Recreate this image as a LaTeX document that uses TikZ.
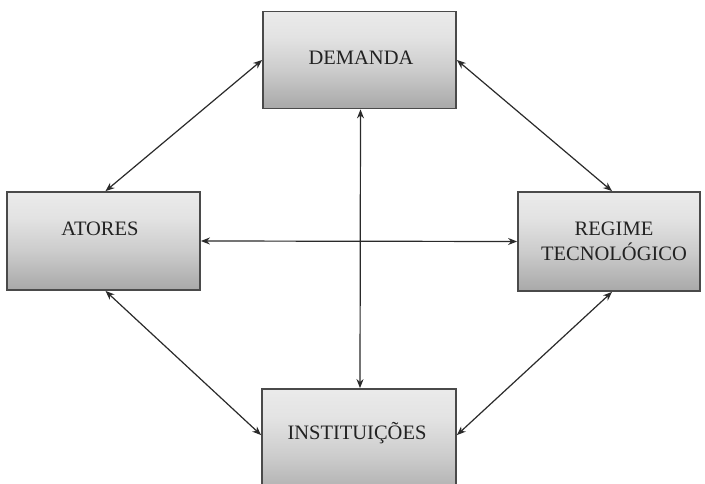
\documentclass[tikz,border=0pt]{standalone}
\usepackage{fontspec}
\setmainfont{Liberation Serif}
\usetikzlibrary{arrows.meta,calc}
\definecolor{boxline}{HTML}{4A4A4A}
\definecolor{arrowline}{HTML}{2A2A2A}
\definecolor{txtcol}{HTML}{222222}
% light grey fill that darkens towards the bottom edge
\pgfdeclareverticalshading{boxshade}{100bp}{
  color(0bp)=(black!34); color(25bp)=(black!34); color(45bp)=(black!20);
  color(62bp)=(black!11); color(75bp)=(black!8); color(100bp)=(black!8)}
\tikzset{
  box/.style={draw=boxline, line width=1.8pt, rectangle, inner sep=0pt,
    shading=boxshade},
  txt/.style={text=txtcol, font=\fontsize{20.5}{25}\selectfont, align=center, inner sep=0pt},
  link/.style={draw=arrowline, line width=1.2pt,
    {Stealth[length=9pt,width=7pt]}-{Stealth[length=9pt,width=7pt]}}
}
\begin{document}
\begin{tikzpicture}[x=1pt,y=-1pt]
  \useasboundingbox (0,0) rectangle (705,484);
  \clip (0,0) rectangle (705,484);
  \fill[white] (0,0) rectangle (705,484);

  % boxes
  \node[box, minimum width=193pt, minimum height=97pt] (demanda) at (359.5,60) {};
  \node[box, minimum width=193pt, minimum height=98pt] (atores) at (103.5,241) {};
  \node[box, minimum width=182pt, minimum height=99pt] (regime) at (609,241.5) {};
  \node[box, minimum width=194pt, minimum height=112pt] (inst) at (359,445) {};

  % labels
  \node[txt] (demanda-t) at (361,58) {DEMANDA};
  \node[txt] (atores-t) at (100,229) {ATORES};
  \node[txt] (regime-t) at (614,241) {REGIME\\TECNOLÓGICO};
  \node[txt] (inst-t) at (357,433) {INSTITUIÇÕES};

  % attachment points on the lower box
  \coordinate (inst-w) at ($(inst.north west)+(0,47)$);
  \coordinate (inst-e) at ($(inst.north east)+(0,47)$);

  % connectors
  \draw[link] (demanda.west) -- ($(atores.north)+(2,0)$);
  \draw[link] (demanda.east) -- ($(regime.north)+(3,0)$);
  \draw[link] ($(atores.south)+(2,0)$) -- (inst-w);
  \draw[link] ($(regime.south)+(3,0)$) -- (inst-e);
  \draw[link] (atores.east) -- (regime.west);
  \draw[link] ($(demanda.south)+(1,0)$) -- ($(inst.north)+(1,0)$);
\end{tikzpicture}
\end{document}
